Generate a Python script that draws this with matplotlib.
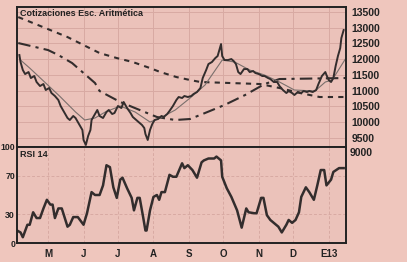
import pandas as pd
import matplotlib.pyplot as plt

# Cotización diaria (días contados desde el 1 de mayo de 2012)
price_days = [-25, -24, -22, -20, -17, -15, -12, -10, -7, -4, -2, 1, 3, 6, 9, 11, 14, 17, 19, 22,
              24, 27, 30, 31, 33, 35, 37, 38, 41, 43, 45, 48, 51, 53, 56, 58, 61, 64, 66, 69,
              72, 74, 77, 79, 82, 84, 85, 87, 89, 91, 93, 96, 99, 101, 104, 106, 109, 112, 114, 117,
              119, 122, 125, 127, 130, 133, 135, 138, 140, 143, 146, 148, 150, 151, 152, 154, 157, 160, 162, 164,
              166, 168, 171, 174, 176, 179, 181, 184, 187, 189, 192, 194, 197, 200, 202, 205, 208, 210, 213, 215,
              218, 221, 223, 226, 228, 231, 234, 236, 239, 242, 243, 245, 247, 249, 251, 253, 255, 256, 258]
price = [12130, 11907, 11653, 11525, 11589, 11398, 11462, 11271, 11143, 11207, 11016, 11080, 10920, 10825, 10697, 10506, 10315, 10124, 10060, 10188,
         10124, 9933, 9742, 9423, 9264, 9551, 9742, 10060, 10251, 10379, 10188, 10124, 10315, 10379, 10251, 10283, 10506, 10442, 10634, 10442,
         10283, 10156, 10060, 9996, 9901, 9805, 9614, 9423, 9742, 9933, 10060, 10092, 10188, 10156, 10251, 10347, 10506, 10697, 10793, 10761,
         10825, 10793, 10825, 10889, 10952, 11080, 11398, 11653, 11844, 11907, 12035, 12099, 12353, 12481, 12099, 11971, 11971, 12003, 11939, 11844,
         11589, 11525, 11684, 11684, 11589, 11621, 11557, 11525, 11462, 11462, 11398, 11366, 11271, 11271, 11143, 11016, 10920, 10984, 10920, 10857,
         10952, 10920, 10984, 10952, 10984, 10952, 11016, 11207, 11462, 11589, 11493, 11334, 11271, 11398, 11780, 12099, 12353, 12672, 12927]

# Media corta (línea fina)
ma_short_days = [-24, -16, -3, 10, 24, 32, 41, 50, 63, 76, 89, 98, 111, 124, 137, 146, 152, 163, 176, 189,
                 202, 215, 233, 242, 248, 260]
ma_short = [11971, 11716, 11271, 10825, 10315, 10060, 10124, 10315, 10506, 10315, 9996, 10124, 10379, 10761, 11175, 11653, 11971, 11907, 11653, 11493,
            11271, 11016, 10984, 11271, 11334, 12035]

# Media (trazos cortos)
ma_mid_days = [-26, -13, 2, 17, 31, 45, 60, 74, 89, 98, 112, 124, 133, 159, 185, 202, 220, 237, 260]
ma_mid = [13341, 13150, 12927, 12704, 12449, 12194, 12035, 11907, 11716, 11589, 11430, 11334, 11271, 11239, 11207, 11080, 10920, 10793, 10793]

# Media larga (trazo y punto)
ma_long_days = [-26, -11, 0, 9, 21, 30, 41, 45, 63, 80, 95, 111, 124, 137, 154, 172, 189, 202, 260]
ma_long = [12513, 12385, 12290, 12131, 11876, 11589, 11239, 10984, 10634, 10379, 10156, 10060, 10092, 10283, 10538, 10857, 11207, 11366, 11398]

# RSI 14
rsi_days = [-27, -24, -22, -18, -16, -13, -10, -7, -4, -1, 2, 4, 6, 9, 12, 17, 19, 22, 26, 31,
            34, 38, 41, 45, 48, 51, 54, 57, 60, 63, 65, 69, 73, 75, 78, 80, 83, 85, 86, 89,
            92, 95, 97, 99, 102, 106, 109, 112, 117, 119, 122, 126, 130, 134, 136, 140, 145, 147, 151, 152,
            156, 160, 165, 169, 173, 175, 180, 182, 186, 188, 191, 194, 197, 201, 204, 208, 210, 213, 216, 219,
            221, 225, 228, 232, 235, 238, 241, 243, 247, 249, 254, 258]
rsi = [13, 11, 6, 19, 19, 32, 26, 26, 36, 45, 40, 40, 26, 36, 36, 17, 19, 27, 27, 19,
       31, 53, 50, 50, 60, 81, 79, 58, 47, 66, 68, 57, 47, 34, 47, 47, 27, 13, 13, 34,
       48, 50, 45, 53, 53, 71, 69, 69, 83, 78, 81, 76, 68, 84, 86, 88, 88, 90, 86, 69,
       57, 48, 34, 16, 36, 32, 31, 31, 47, 47, 29, 24, 21, 17, 11, 19, 24, 21, 24, 32,
       48, 58, 53, 45, 60, 76, 76, 60, 66, 74, 78, 78]

month_starts = ['2012-05-01', '2012-06-01', '2012-07-01', '2012-08-01', '2012-09-01',
                '2012-10-01', '2012-11-01', '2012-12-01', '2013-01-01']
month_labels = ['M', 'J', 'J', 'A', 'S', 'O', 'N', 'D', 'E13']
price_ticks = [9500, 10000, 10500, 11000, 11500, 12000, 12500, 13000, 13500]
rsi_ticks = [0, 30, 70, 100]

base = pd.Timestamp('2012-05-01')


def to_dates(days):
    return base + pd.to_timedelta(days, unit='D')


paper = '#efc6bd'
ink = '#332d2d'
grid_c = '#d8aaa3'
plt.rcParams['font.family'] = ['Liberation Sans', 'DejaVu Sans']

fig = plt.figure(figsize=(4.07, 2.62), dpi=100, facecolor=paper)
ax = fig.add_axes([0.042, 0.439, 0.808, 0.534], facecolor='#ebc2ba')
ax2 = fig.add_axes([0.042, 0.0725, 0.808, 0.3665], facecolor='#ebc2ba', sharex=ax)

xmin, xmax = to_dates(-27), to_dates(260)

ax.plot(to_dates(ma_mid_days), ma_mid, color=ink, lw=1.5, ls=(0, (2.5, 2.5)))
ax.plot(to_dates(ma_long_days), ma_long, color=ink, lw=1.5, ls=(0, (6, 2.5, 1.5, 2.5)))
ax.plot(to_dates(ma_short_days), ma_short, color='#7a6f6c', lw=0.8)
ax.plot(to_dates(price_days), price, color=ink, lw=1.4)
ax.set_xlim(xmin, xmax)
ax.set_ylim(9200, 13660)
ax.yaxis.tick_right()
ax.set_yticks(price_ticks)
ax.set_yticklabels([str(v) for v in price_ticks])
ax.tick_params(axis='y', length=0, pad=4, labelsize=7.5, colors='#222')
ax.tick_params(axis='x', length=0, labelbottom=False)
ax.text(1.012, 9000, '9000', transform=ax.get_yaxis_transform(), ha='left', va='center',
        fontsize=7.5, fontweight='bold', color='#222', clip_on=False)
ax.text(0.008, 0.985, 'Cotizaciones Esc. Aritmética', transform=ax.transAxes, ha='left', va='top',
        fontsize=6.5, fontweight='bold', color='#222')

ax2.plot(to_dates(rsi_days), rsi, color=ink, lw=1.8)
ax2.set_ylim(0, 100)
ax2.set_yticks(rsi_ticks)
ax2.set_yticklabels([str(v) for v in rsi_ticks])
ax2.tick_params(axis='y', length=0, pad=1.5, labelsize=6.3, colors='#222')
ax2.set_xticks(pd.to_datetime(month_starts))
ax2.set_xticklabels(month_labels)
ax2.tick_params(axis='x', length=0, pad=4, labelsize=7, colors='#222')
for lab in ax2.get_xticklabels() + ax2.get_yticklabels() + ax.get_yticklabels():
    lab.set_fontweight('bold')
ax2.text(0.008, 0.97, 'RSI 14', transform=ax2.transAxes, ha='left', va='top',
         fontsize=6.5, fontweight='bold', color='#222')

for a in (ax, ax2):
    a.grid(True, color=grid_c, lw=0.7)
    for s in a.spines.values():
        s.set_color('#222')
        s.set_linewidth(1.4)
ax2.grid(True, color=grid_c, lw=0.7, ls=(0, (3, 2)))

fig.savefig('out.png', dpi=100, facecolor=paper)
